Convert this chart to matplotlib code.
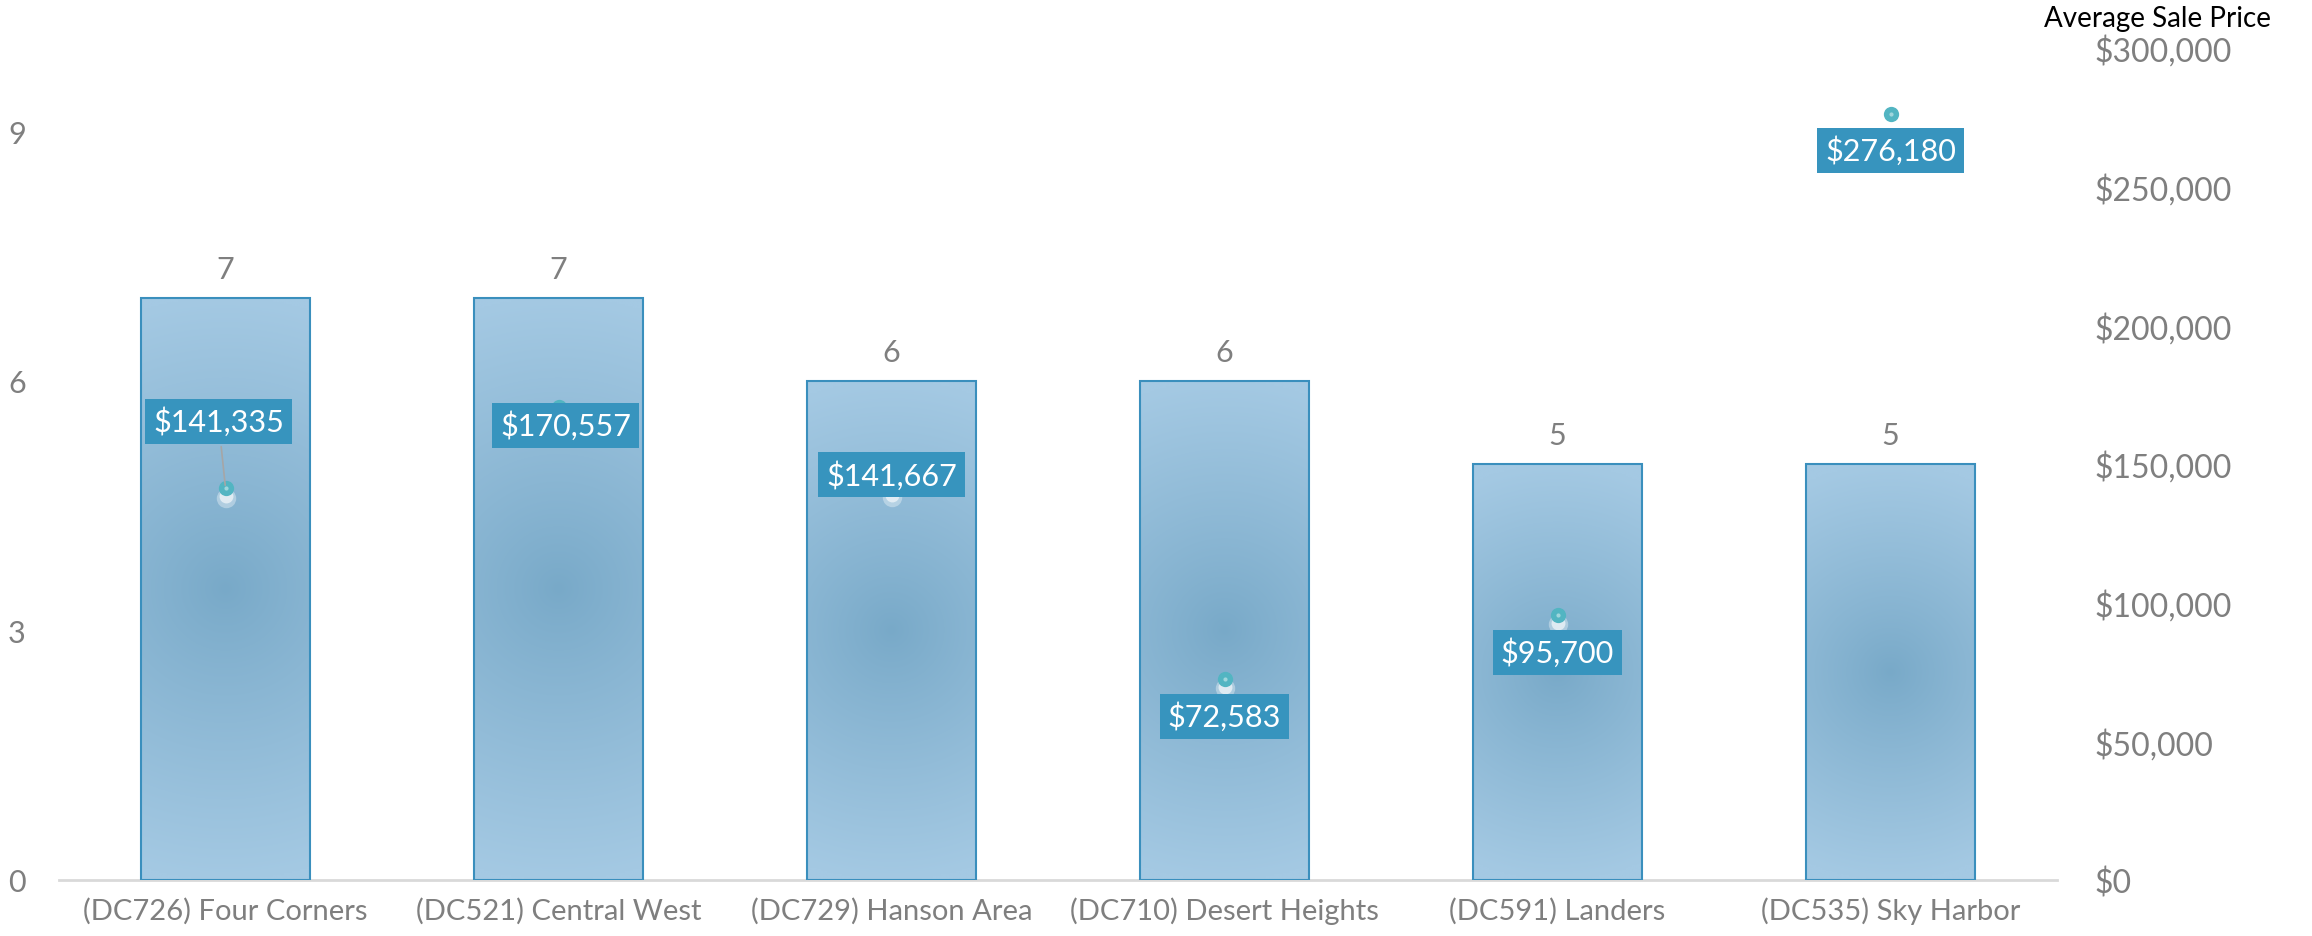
import matplotlib

matplotlib.use("Agg")
import matplotlib.pyplot as plt
import numpy as np
from matplotlib.colors import to_rgb
from matplotlib.ticker import FuncFormatter

plt.rcParams["font.family"] = ["Lato", "DejaVu Sans"]

areas = [
    "(DC726) Four Corners",
    "(DC521) Central West",
    "(DC729) Hanson Area",
    "(DC710) Desert Heights",
    "(DC591) Landers",
    "(DC535) Sky Harbor",
]
sales_count = [7, 7, 6, 6, 5, 5]
avg_price = [141335, 170557, 141667, 72583, 95700, 276180]
count_ticks = [0, 3, 6, 9]
price_ticks = [0, 50000, 100000, 150000, 200000, 250000, 300000]

# where each price label sits relative to its marker (points)
label_offsets = [(-5, 48), (5, -13), (0, 9), (0, -27), (0, -27), (0, -26)]

GRAY = "#7f7f7f"
BAR_LIGHT = np.array(to_rgb("#a4c9e3"))
BAR_DARK = np.array(to_rgb("#78a9c8"))
BAR_EDGE = "#3a8fbd"
BOX = "#3794be"
TEAL = "#52b5c2"

W, H, DPI = 2312, 937, 100
fig = plt.figure(figsize=(W / DPI, H / DPI), dpi=DPI)
ax = fig.add_axes([59 / W, 1 - 881 / H, (2057 - 59) / W, (881 - 49) / H])
ax2 = ax.twinx()

x = np.arange(len(areas))
bar_w = 0.505
ax.set_xlim(-0.5, len(areas) - 0.5)
ax.set_ylim(0, 10)
ax2.set_ylim(0, 300000)

# px per data unit, used to make the bar shading circular on screen
px_x = (2057 - 59) / len(areas)
px_y = (881 - 49) / 10

bars = ax.bar(x, sales_count, width=bar_w, color="none", edgecolor=BAR_EDGE,
              linewidth=1.5, zorder=3)
for b, h in zip(bars, sales_count):
    bw, bh = bar_w * px_x, h * px_y
    gx, gy = np.meshgrid(np.linspace(-bw / 2, bw / 2, 80), np.linspace(0, bh, 300))
    r = np.sqrt(gx ** 2 + (gy - bh / 2) ** 2) / (bh / 2)
    t = np.clip(r, 0, 1) ** 0.9
    img = BAR_DARK + (BAR_LIGHT - BAR_DARK) * t[..., None]
    x0 = b.get_x()
    im = ax.imshow(img, extent=[x0, x0 + bar_w, 0, h], origin="lower",
                   aspect="auto", zorder=2, interpolation="bilinear")
    im.set_clip_path(b)
    ax.text(x0 + bar_w / 2, h + 0.18, str(h), ha="center", va="bottom",
            fontsize=22, color=GRAY, zorder=4)

# price markers: soft white glow under a teal dot
prices = np.array(avg_price)
ax2.plot(x, prices - 3500, "o", ms=14, color="white", alpha=0.35, mec="none", zorder=4)
ax2.plot(x, prices - 3000, "o", ms=10, color="white", alpha=0.6, mec="none", zorder=4)
ax2.plot(x, prices, "o", ms=11, color=TEAL, mec="none", zorder=5)
ax2.plot(x, prices, "o", ms=3, color="#9fd6dc", mec="none", zorder=6)

for xi, p, off in zip(x, avg_price, label_offsets):
    arrow = dict(arrowstyle="-", color="#a6a6a6", lw=1.2) if off[1] > 30 else None
    ax2.annotate(f"${p:,}", xy=(xi, p), xytext=off, textcoords="offset points",
                 ha="center", va="center", fontsize=22, color="white", zorder=7,
                 bbox=dict(boxstyle="square,pad=0.25", fc=BOX, ec="none"),
                 arrowprops=arrow)

ax.set_xticks(x)
ax.set_xticklabels(areas, fontsize=21, color=GRAY)
ax.set_yticks(count_ticks)
ax.tick_params(axis="y", labelsize=22, labelcolor=GRAY, length=0, pad=24)
ax.tick_params(axis="x", length=0, pad=12)
ax2.set_yticks(price_ticks)
ax2.yaxis.set_major_formatter(FuncFormatter(lambda v, _: f"${v:,.0f}"))
ax2.tick_params(axis="y", labelsize=23, labelcolor=GRAY, length=0, pad=27)

for a in (ax, ax2):
    for s in a.spines.values():
        s.set_visible(False)
ax.spines["bottom"].set_visible(True)
ax.spines["bottom"].set_color("#d9d9d9")
ax.spines["bottom"].set_linewidth(2)

fig.text(2271 / W, 1 - 19 / H, "Average Sale Price", ha="right", va="center",
         fontsize=20, color="black")

fig.savefig("out.png", dpi=DPI)
